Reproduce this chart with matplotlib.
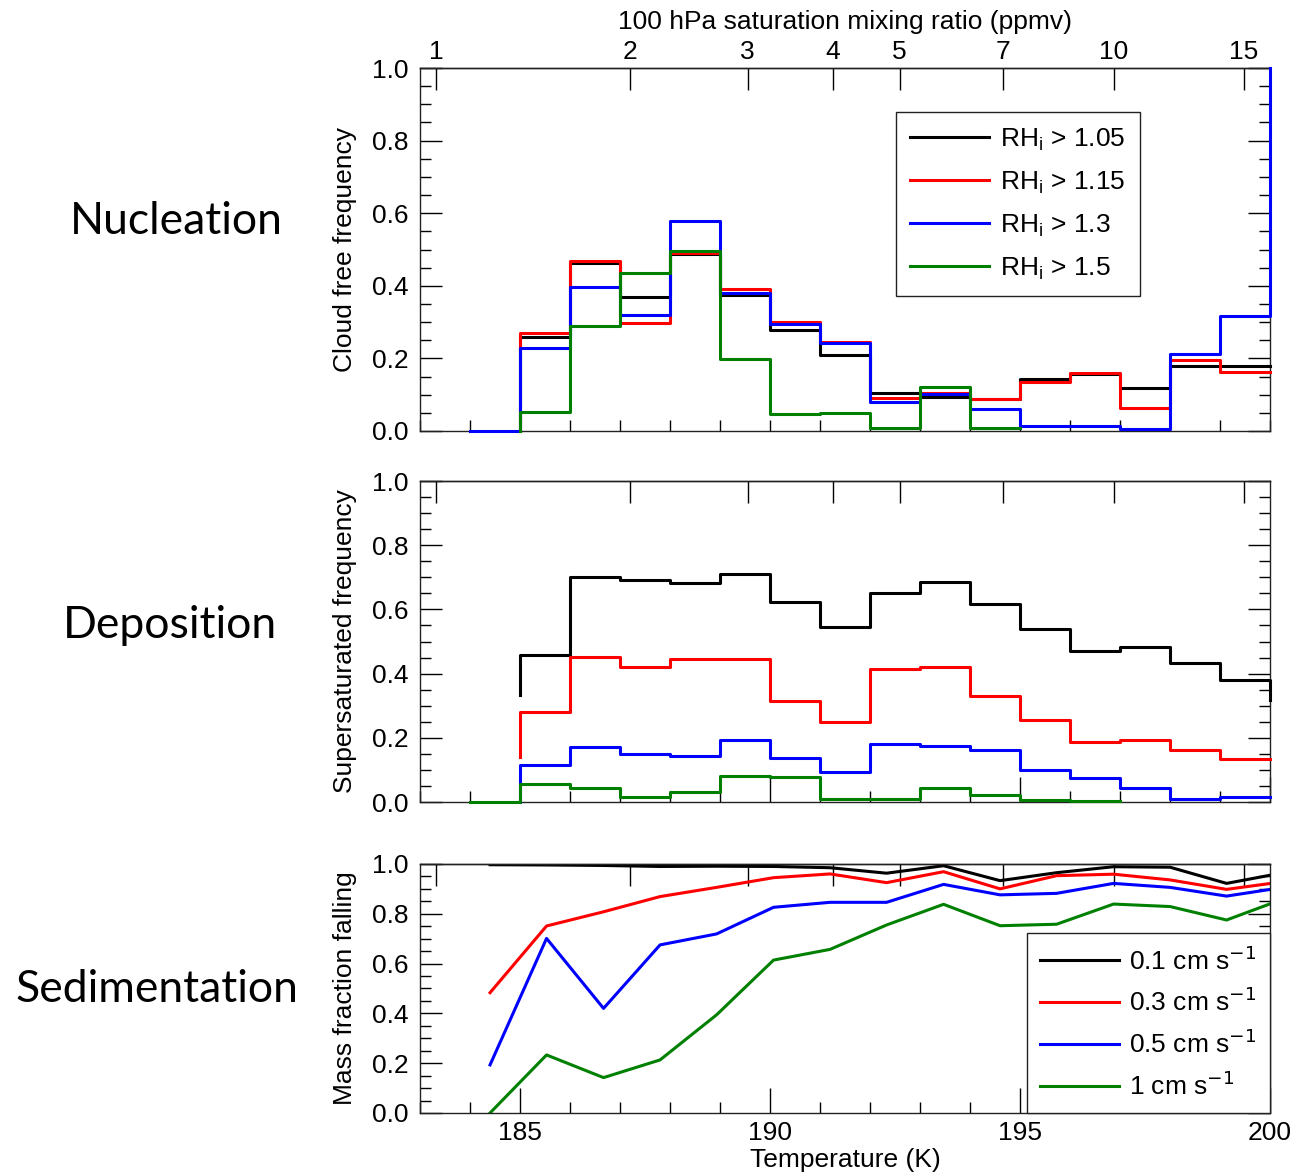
import numpy as np
import matplotlib
matplotlib.use('Agg')
import matplotlib.pyplot as plt
from matplotlib.ticker import MultipleLocator, FormatStrFormatter

plt.rcParams['font.family'] = ['Liberation Sans', 'DejaVu Sans']

# temperature bins (K), 1 K wide
bin_edges = np.arange(184, 201)

# Nucleation: cloud free frequency per bin
nuc_105 = [np.nan, 0.260, 0.463, 0.368, 0.489, 0.376, 0.278, 0.210, 0.104, 0.095, 0.087, 0.143, 0.158, 0.119, 0.180, 0.179]
nuc_115 = [np.nan, 0.269, 0.469, 0.298, 0.491, 0.392, 0.301, 0.245, 0.092, 0.106, 0.087, 0.134, 0.161, 0.062, 0.196, 0.163]
nuc_130 = [0.0, 0.230, 0.396, 0.319, 0.579, 0.379, 0.294, 0.243, 0.081, 0.102, 0.061, 0.015, 0.015, 0.005, 0.212, 0.318]
nuc_150 = [np.nan, 0.052, 0.290, 0.434, 0.497, 0.198, 0.048, 0.050, 0.009, 0.122, 0.009, np.nan, np.nan, np.nan, np.nan, np.nan]
nuc_start = [0.0, 0.0, None, 0.0]
nuc_end = [None, None, 1.0, None]

# Deposition: supersaturated frequency per bin
dep_105 = [np.nan, 0.458, 0.702, 0.692, 0.681, 0.710, 0.624, 0.546, 0.650, 0.684, 0.617, 0.539, 0.471, 0.482, 0.432, 0.380]
dep_115 = [np.nan, 0.281, 0.453, 0.420, 0.445, 0.445, 0.316, 0.250, 0.413, 0.420, 0.331, 0.255, 0.186, 0.193, 0.162, 0.134]
dep_130 = [np.nan, 0.115, 0.170, 0.150, 0.143, 0.193, 0.138, 0.094, 0.181, 0.176, 0.162, 0.100, 0.074, 0.043, 0.011, 0.015]
dep_150 = [0.0, 0.055, 0.043, 0.017, 0.030, 0.082, 0.079, 0.011, 0.011, 0.043, 0.022, 0.006, 0.003, np.nan, np.nan, np.nan]
dep_start = [0.333, 0.141, 0.0, None]
dep_end = [0.318, None, None, None]

rh_labels = ['RH$_\\mathregular{i}$ > 1.05', 'RH$_\\mathregular{i}$ > 1.15',
             'RH$_\\mathregular{i}$ > 1.3', 'RH$_\\mathregular{i}$ > 1.5']

# Sedimentation: mass fraction falling
sed_temp = [184.4, 185.53, 186.67, 187.8, 188.93, 190.07, 191.2, 192.33, 193.47, 194.6, 195.73, 196.87, 198.0, 199.13, 200.27]
sed_01 = [0.997, 0.996, 0.994, 0.990, 0.991, 0.990, 0.985, 0.963, 0.993, 0.933, 0.965, 0.989, 0.987, 0.922, 0.965]
sed_03 = [0.483, 0.751, 0.808, 0.869, 0.906, 0.945, 0.960, 0.925, 0.969, 0.900, 0.953, 0.959, 0.936, 0.898, 0.929]
sed_05 = [0.193, 0.701, 0.420, 0.675, 0.719, 0.826, 0.846, 0.846, 0.918, 0.876, 0.882, 0.922, 0.906, 0.871, 0.906]
sed_10 = [0.0, 0.233, 0.142, 0.213, 0.394, 0.614, 0.657, 0.755, 0.838, 0.752, 0.758, 0.839, 0.829, 0.775, 0.860]
sed_labels = ['0.1 cm s$^{-1}$', '0.3 cm s$^{-1}$', '0.5 cm s$^{-1}$', '1 cm s$^{-1}$']

colors = ['black', 'red', 'blue', 'green']
ppmv_ticks = [1, 2, 3, 4, 5, 7, 10, 15]

FS = 19


def sat_ppmv(T):
    """Ice saturation mixing ratio at 100 hPa (Murphy and Koop)."""
    T = np.asarray(T, dtype=float)
    e = np.exp(9.550426 - 5723.265 / T + 3.53068 * np.log(T) - 0.00728332 * T)
    return e / 10000.0 * 1e6


T_grid = np.linspace(150, 250, 5001)


def ppmv_to_T(q):
    return np.interp(q, sat_ppmv(T_grid), T_grid)


def step_xy(edges, vals, start=None, end=None):
    vals = np.asarray(vals, dtype=float)
    x = list(np.repeat(edges, 2)[1:-1])
    y = list(np.repeat(vals, 2))
    if start is not None:
        # lead-in at the left edge of the first bin with data
        i0 = int(np.argmax(np.isfinite(vals)))
        x = x[:2 * i0] + [edges[i0]] + x[2 * i0:]
        y = y[:2 * i0] + [start] + y[2 * i0:]
    if end is not None:
        x = x + [edges[-1]]
        y = y + [end]
    return x, y


def style_axes(ax, ylabel, xmajor_len, show_xlabels, show_ppmv_labels):
    ax.set_xlim(183, 200)
    ax.set_ylim(0, 1)
    ax.xaxis.set_major_locator(MultipleLocator(5))
    ax.xaxis.set_minor_locator(MultipleLocator(1))
    ax.yaxis.set_major_locator(MultipleLocator(0.2))
    ax.yaxis.set_minor_locator(MultipleLocator(0.05))
    ax.yaxis.set_major_formatter(FormatStrFormatter('%.1f'))
    ax.tick_params(axis='y', which='both', direction='in', left=True, right=True,
                   width=1, labelsize=FS, pad=8)
    ax.tick_params(axis='y', which='major', length=16)
    ax.tick_params(axis='y', which='minor', length=8)
    ax.tick_params(axis='x', which='both', direction='in', top=False, bottom=True,
                   width=1, labelsize=FS, pad=6, labelbottom=show_xlabels)
    ax.tick_params(axis='x', which='major', length=xmajor_len)
    ax.tick_params(axis='x', which='minor', length=8)
    ax.set_ylabel(ylabel, fontsize=FS, labelpad=11)
    for s in ax.spines.values():
        s.set_linewidth(1.0)
        s.set_color('#222222')

    sec = ax.secondary_xaxis('top', functions=(sat_ppmv, ppmv_to_T))
    sec.set_xticks(ppmv_ticks)
    sec.set_xticklabels([str(t) for t in ppmv_ticks])
    sec.xaxis.set_minor_locator(plt.NullLocator())
    sec.tick_params(axis='x', direction='in', length=16, width=1, labelsize=FS,
                    pad=3, labeltop=show_ppmv_labels)
    sec.spines['top'].set_linewidth(1.0)
    sec.spines['top'].set_color('#222222')
    return sec


fig = plt.figure(figsize=(12.96, 11.75), dpi=100)
ax1 = fig.add_axes([0.3241, 0.6332, 0.6559, 0.3089])
ax2 = fig.add_axes([0.3241, 0.3174, 0.6559, 0.2732])
ax3 = fig.add_axes([0.3241, 0.0528, 0.6559, 0.2119])

# Nucleation panel
for vals, c, lab, st, en in zip([nuc_105, nuc_115, nuc_130, nuc_150], colors, rh_labels,
                                nuc_start, nuc_end):
    x, y = step_xy(bin_edges, vals, st, en)
    ax1.plot(x, y, color=c, lw=2.2, label=lab, clip_on=False, zorder=3)
sec1 = style_axes(ax1, 'Cloud free frequency', 8, False, True)
sec1.set_xlabel('100 hPa saturation mixing ratio (ppmv)', fontsize=FS, labelpad=8)
leg1 = ax1.legend(loc='upper right', bbox_to_anchor=(0.847, 0.879), borderaxespad=0,
                  fontsize=FS, handlelength=3.0, handletextpad=0.4, labelspacing=0.62,
                  borderpad=0.55, fancybox=False, edgecolor='#222222', framealpha=1)
leg1.get_frame().set_linewidth(1.0)
leg1.set_zorder(5)

# Deposition panel
for vals, c, st, en in zip([dep_105, dep_115, dep_130, dep_150], colors, dep_start, dep_end):
    x, y = step_xy(bin_edges, vals, st, en)
    ax2.plot(x, y, color=c, lw=2.2, clip_on=False, zorder=3)
style_axes(ax2, 'Supersaturated frequency', 18, False, False)

# Sedimentation panel
for vals, c, lab in zip([sed_01, sed_03, sed_05, sed_10], colors, sed_labels):
    ax3.plot(sed_temp, vals, color=c, lw=2.2, label=lab)
style_axes(ax3, 'Mass fraction falling', 18, True, False)
ax3.set_xlabel('Temperature (K)', fontsize=FS, labelpad=2)
leg3 = ax3.legend(loc='lower right', bbox_to_anchor=(1.0, 0.0), borderaxespad=0, fontsize=FS,
                  handlelength=3.0, handletextpad=0.4, labelspacing=0.5, borderpad=0.5,
                  fancybox=False, edgecolor='#222222', framealpha=1)
leg3.get_frame().set_linewidth(1.0)

# section titles
for label, xc, yc in [('Nucleation', 176, 222), ('Deposition', 170, 625),
                      ('Sedimentation', 157, 990)]:
    fig.text(xc / 1296, 1 - yc / 1175, label, fontsize=32, family=['Lato', 'DejaVu Sans'],
             ha='center', va='center')

fig.savefig('out.png', dpi=100)
plt.close(fig)
